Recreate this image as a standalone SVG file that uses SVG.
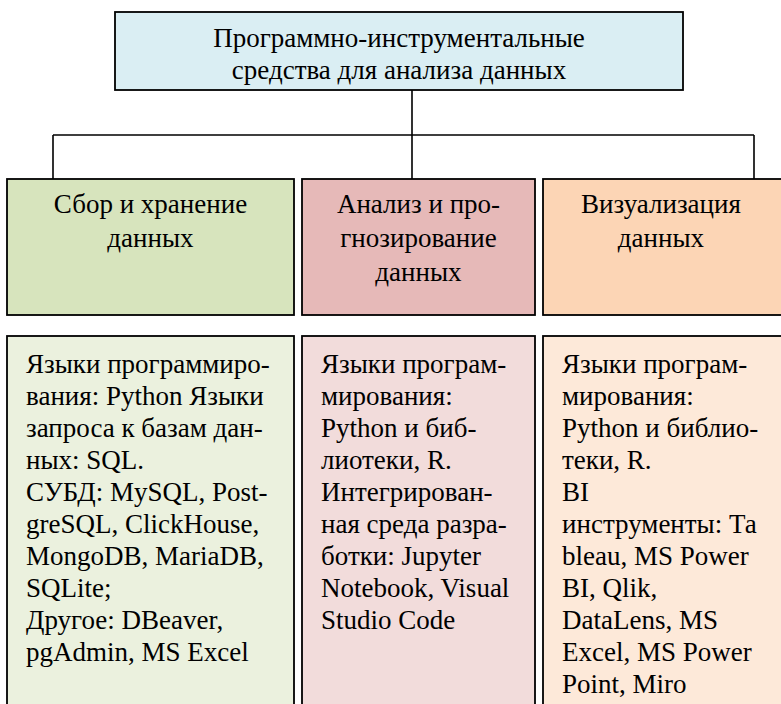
<svg xmlns="http://www.w3.org/2000/svg" width="781" height="704" viewBox="0 0 781 704" font-family="Liberation Serif, Times New Roman, DejaVu Serif, serif">
<style>
.box{stroke:#000;stroke-width:1.8}
.t{font-family:'Liberation Serif','Times New Roman','DejaVu Serif',serif;font-size:27px;fill:#000}
.c{text-anchor:middle}
.conn{stroke:#000;stroke-width:1.6;fill:none}
</style>
<rect width="781" height="704" fill="#fff"/>
<g id="connectors">
<path class="conn" d="M412 90 V179 M53 135 H754 M53 135 V179 M754 135 V179"/>
</g>
<g id="root">
<rect class="box" x="115" y="12" width="568" height="78" fill="#DAEEF3"/>
<text class="t c" x="399" y="47">Программно-инструментальные</text>
<text class="t c" x="399" y="79">средства для анализа данных</text>
</g>
<g id="collect">
<rect class="box" x="7" y="179" width="287" height="136" fill="#D7E4BD"/>
<text class="t c" x="150.5" y="213">Сбор и хранение</text>
<text class="t c" x="150.5" y="247">данных</text>
</g>
<g id="analysis">
<rect class="box" x="302" y="179" width="233" height="136" fill="#E6B9B8"/>
<text class="t c" x="418.5" y="213">Анализ и про-</text>
<text class="t c" x="418.5" y="247">гнозирование</text>
<text class="t c" x="418.5" y="281">данных</text>
</g>
<g id="visual">
<rect class="box" x="543" y="179" width="250" height="136" fill="#FCD5B5"/>
<text class="t c" x="661" y="213">Визуализация</text>
<text class="t c" x="661" y="247">данных</text>
</g>
<g id="collect-tools">
<rect class="box" x="7" y="336" width="287" height="380" fill="#EBF1DE"/>
<text class="t" x="26" y="373">Языки программиро-</text>
<text class="t" x="26" y="405">вания: Python Языки</text>
<text class="t" x="26" y="437">запроса к базам дан-</text>
<text class="t" x="26" y="469">ных: SQL.</text>
<text class="t" x="26" y="501">СУБД: MySQL, Post-</text>
<text class="t" x="26" y="533">greSQL, ClickHouse,</text>
<text class="t" x="26" y="565">MongoDB, MariaDB,</text>
<text class="t" x="26" y="597">SQLite;</text>
<text class="t" x="26" y="629">Другое: DBeaver,</text>
<text class="t" x="26" y="661">pgAdmin, MS Excel</text>
</g>
<g id="analysis-tools">
<rect class="box" x="302" y="336" width="233" height="380" fill="#F2DCDB"/>
<text class="t" x="321" y="373">Языки програм-</text>
<text class="t" x="321" y="405">мирования:</text>
<text class="t" x="321" y="437">Python и биб-</text>
<text class="t" x="321" y="469">лиотеки, R.</text>
<text class="t" x="321" y="501">Интегрирован-</text>
<text class="t" x="321" y="533">ная среда разра-</text>
<text class="t" x="321" y="565">ботки: Jupyter</text>
<text class="t" x="321" y="597">Notebook, Visual</text>
<text class="t" x="321" y="629">Studio Code</text>
</g>
<g id="visual-tools">
<rect class="box" x="543" y="336" width="250" height="380" fill="#FDE9D9"/>
<text class="t" x="562" y="373">Языки програм-</text>
<text class="t" x="562" y="405">мирования:</text>
<text class="t" x="562" y="437">Python и библио-</text>
<text class="t" x="562" y="469">теки, R.</text>
<text class="t" x="562" y="501">BI</text>
<text class="t" x="562" y="533">инструменты: Та</text>
<text class="t" x="562" y="565">bleau, MS Power</text>
<text class="t" x="562" y="597">BI, Qlik,</text>
<text class="t" x="562" y="629">DataLens, MS</text>
<text class="t" x="562" y="661">Excel, MS Power</text>
<text class="t" x="562" y="693">Point, Miro</text>
</g>
</svg>
